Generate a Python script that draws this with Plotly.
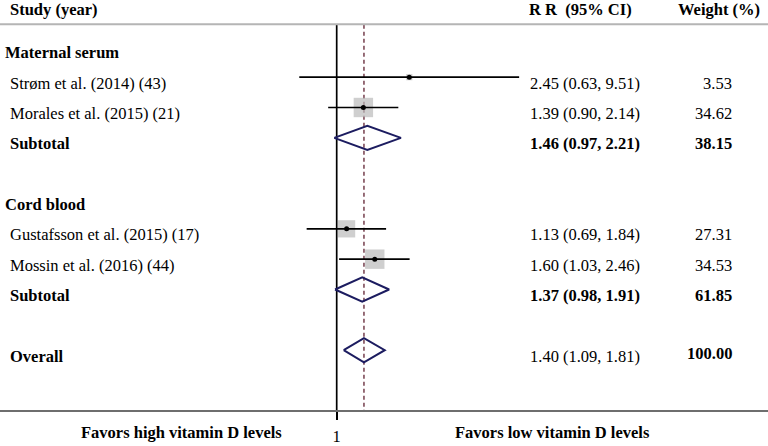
import math
import plotly.graph_objects as go

# ---------------- data ----------------
labels = ["Maternal serum", "Strøm et al. (2014) (43)", "Morales et al. (2015) (21)", "Subtotal", "",
          "Cord blood", "Gustafsson et al. (2015) (17)", "Mossin et al. (2016) (44)", "Subtotal", "",
          "Overall"]
kinds = ["group", "study", "study", "sub", "", "group", "study", "study", "sub", "", "overall"]
rr = [None, 2.45, 1.39, 1.46, None, None, 1.13, 1.60, 1.37, None, 1.40]
ci_lo = [None, 0.63, 0.90, 0.97, None, None, 0.69, 1.03, 0.98, None, 1.09]
ci_hi = [None, 9.51, 2.14, 2.21, None, None, 1.84, 2.46, 1.91, None, 1.81]
weights = [None, 3.53, 34.62, 38.15, None, None, 27.31, 34.53, 61.85, None, 100.00]
overall_rr = 1.40
tick_vals = [1]
tick_text = ["1"]
headers = ["Study (year)", "R R\u00a0 (95% CI)", "Weight (%)"]
footers = ["Favors high vitamin D levels", "Favors low vitamin D levels"]

# ---------------- geometry / style ----------------
W, H = 768, 446
MB = 30
PLOT_H = H - MB
ROW0_PX, ROW_STEP = 47.5, 30.78
PX_PER_DEC = 186.5
X_ONE_PX = 336.7
FONT = "Liberation Serif, Times New Roman, serif"
FS = 16.5
NAVY = "#1c1c60"
TXT_SHIFT = -6

xr = [math.log10(1) - X_ONE_PX / PX_PER_DEC, math.log10(1) + (W - X_ONE_PX) / PX_PER_DEC]
y_top = -ROW0_PX / ROW_STEP
y_bot = (PLOT_H - ROW0_PX) / ROW_STEP

def px2row(py):
    return (py - ROW0_PX) / ROW_STEP

fig = go.Figure()

DIA_H = 0.40
for i, k in enumerate(kinds):
    if k in ("sub", "overall"):
        fig.add_trace(go.Scatter(
            x=[ci_lo[i], rr[i], ci_hi[i], rr[i], ci_lo[i]],
            y=[i, i - DIA_H, i, i + DIA_H, i], mode="lines",
            line=dict(color=NAVY, width=2), hoverinfo="skip"))

# squares sized by weight
sx, sy, ss = [], [], []
for i, k in enumerate(kinds):
    if k == "study":
        sx.append(rr[i]); sy.append(i); ss.append(3.3 * math.sqrt(weights[i]))
fig.add_trace(go.Scatter(x=sx, y=sy, mode="markers",
                         marker=dict(symbol="square", size=ss, color="#bababa", line=dict(width=0)),
                         hoverinfo="skip"))
# CI lines over squares
for i, k in enumerate(kinds):
    if k == "study":
        fig.add_trace(go.Scatter(x=[ci_lo[i], ci_hi[i]], y=[i, i], mode="lines",
                                 line=dict(color="black", width=1.7), hoverinfo="skip"))
fig.add_trace(go.Scatter(x=sx, y=sy, mode="markers",
                         marker=dict(symbol="circle", size=5, color="black"), hoverinfo="skip"))

shapes = []
top_row = px2row(25)
# null line at 1
shapes.append(dict(type="line", xref="x", yref="y", x0=1, x1=1, y0=top_row, y1=y_bot,
                   line=dict(color="black", width=1.7), layer="below"))
# overall dashed line
shapes.append(dict(type="line", xref="x", yref="y", x0=overall_rr, x1=overall_rr, y0=top_row, y1=y_bot,
                   line=dict(color="#8c5f6a", width=1.8, dash="4px,3px"), layer="below"))
# header separator
shapes.append(dict(type="line", xref="paper", yref="y", x0=0, x1=1, y0=px2row(24.5), y1=px2row(24.5),
                   line=dict(color="#b5b5b5", width=2)))

ann = []
def txt(x, y, t, bold=False, anchor="left", yshift=TXT_SHIFT):
    ann.append(dict(x=x / W, y=y, xref="paper", yref="y", text=("<b>%s</b>" % t) if bold else t,
                    showarrow=False, xanchor=anchor, yanchor="middle", yshift=yshift,
                    font=dict(family=FONT, size=FS, color="black")))

hdr_row = px2row(10)
txt(8, hdr_row, headers[0], bold=True, yshift=0)
txt(527, hdr_row, headers[1], bold=True, yshift=0)
txt(762, hdr_row, headers[2], bold=True, anchor="right", yshift=0)

for i, k in enumerate(kinds):
    if k == "":
        continue
    bold = k in ("group", "sub", "overall")
    if k == "group":
        txt(3, i, labels[i], bold=True)
        continue
    txt(8, i, labels[i], bold=bold)
    ci_txt = "%.2f (%.2f, %.2f)" % (rr[i], ci_lo[i], ci_hi[i])
    txt(528, i, ci_txt, bold=(k == "sub"))
    txt(734, i, "%.2f" % weights[i], bold=bold, anchor="right",
        yshift=(TXT_SHIFT + 3 if k == "overall" else TXT_SHIFT))

foot_y = -(439 - PLOT_H) / PLOT_H
ann.append(dict(x=181 / W, y=foot_y, xref="paper", yref="paper", text="<b>%s</b>" % footers[0],
                showarrow=False, xanchor="center", yanchor="middle",
                font=dict(family=FONT, size=FS, color="black")))
ann.append(dict(x=552 / W, y=foot_y, xref="paper", yref="paper", text="<b>%s</b>" % footers[1],
                showarrow=False, xanchor="center", yanchor="middle",
                font=dict(family=FONT, size=FS, color="black")))

fig.update_layout(
    width=W, height=H, margin=dict(l=0, r=0, t=0, b=MB),
    paper_bgcolor="white", plot_bgcolor="white", showlegend=False,
    shapes=shapes, annotations=ann,
    xaxis=dict(type="log", range=xr, showgrid=False, zeroline=False,
               showline=True, linecolor="#6e6e6e", linewidth=2,
               tickvals=tick_vals, ticktext=tick_text, ticks="outside", ticklen=8,
               tickwidth=1.7, tickcolor="black", ticklabelstandoff=2,
               tickfont=dict(family=FONT, size=FS, color="black")),
    yaxis=dict(range=[y_bot, y_top], showgrid=False, zeroline=False, showticklabels=False,
               showline=False, ticks=""),
)

fig.write_html("out.html", config={"displayModeBar": False},
               post_script="document.body.style.margin='0';document.body.style.overflow='hidden';")
